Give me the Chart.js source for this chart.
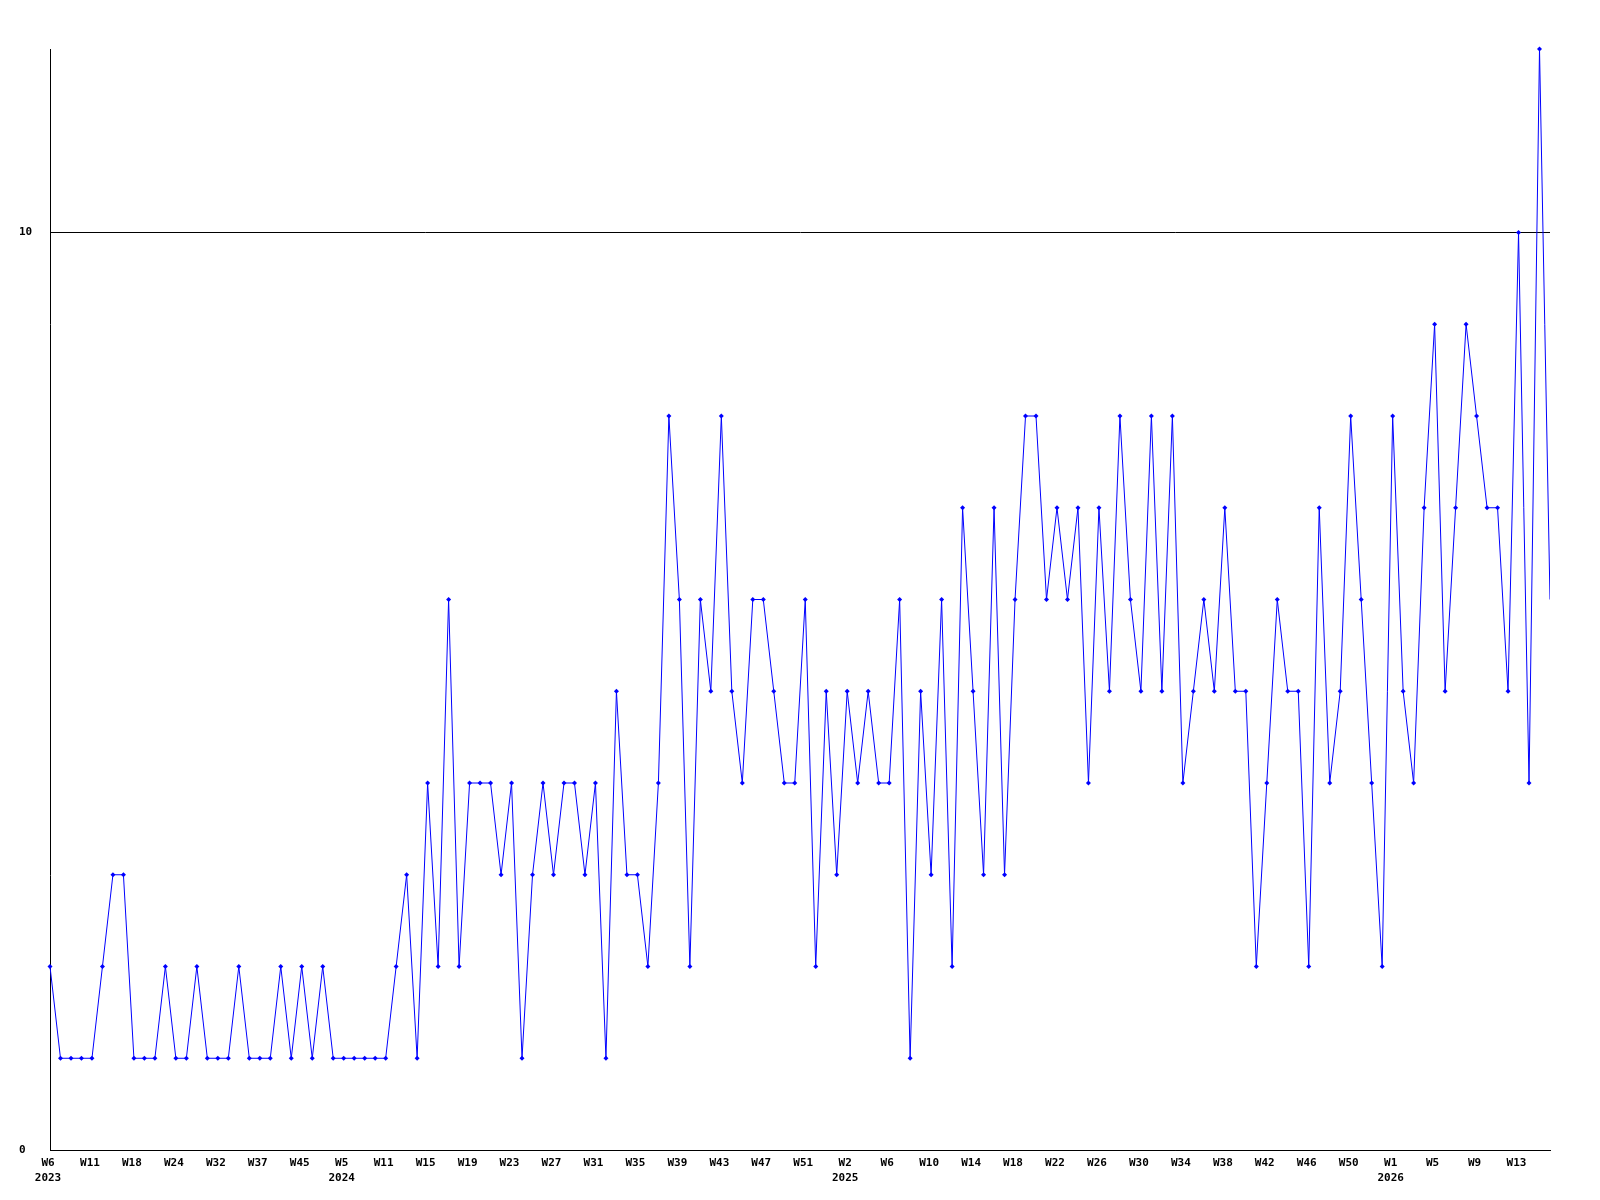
<!DOCTYPE html>
<html>
<head>
<meta charset="utf-8">
<script src="https://cdn.jsdelivr.net/npm/chart.js@4/dist/chart.umd.min.js"></script>
<style>
  body { margin: 0; background: #fff; }
  #wrap { width: 1600px; height: 1200px; }
</style>
</head>
<body>
<div id="wrap"><canvas id="lineChart" width="1600" height="1200"></canvas></div>
<script>
// one label every 4 weeks, the rest of the points have no label
const tickLabels = ["W6","W11","W18","W24","W32","W37","W45","W5","W11","W15","W19","W23",
  "W27","W31","W35","W39","W43","W47","W51","W2","W6","W10","W14","W18",
  "W22","W26","W30","W34","W38","W42","W46","W50","W1","W5","W9","W13"]
const yearAt = { 0: "2023", 7: "2024", 19: "2025", 32: "2026" }
const yTicks = [0, 10]

const values = [
  2,1,1,1,1,2,3,3,1,1,1,2,1,1,2,1,1,1,2,
  1,1,1,2,1,2,1,2,1,1,1,1,1,1,2,3,1,4,
  2,6,2,4,4,4,3,4,1,3,4,3,4,4,3,4,1,5,
  3,3,2,4,8,6,2,6,5,8,5,4,6,6,5,4,4,6,
  2,5,3,5,4,5,4,4,6,1,5,3,6,2,7,5,3,7,
  3,6,8,8,6,7,6,7,4,7,5,8,6,5,8,5,8,4,
  5,6,5,7,5,5,2,4,6,5,5,2,7,4,5,8,6,4,
  2,8,5,4,7,9,5,7,9,8,7,7,5,10,4,12,6
]

const labels = values.map((v, i) => {
  if (i % 4 !== 0) return ""
  const m = i / 4
  return yearAt[m] ? [tickLabels[m], yearAt[m]] : tickLabels[m]
})

const tickFont = { family: "'DejaVu Sans Mono', monospace", size: 11, weight: "bold", lineHeight: 1.4 }

var ctx = document.getElementById("lineChart").getContext("2d")
var lineChart = new Chart(ctx, {
  type: "line",
  data: {
    labels: labels,
    datasets: [{
      data: values,
      borderColor: "#0000ff",
      backgroundColor: "#0000ff",
      borderWidth: 1,
      tension: 0,
      pointStyle: "rectRot",
      // last point sits on the right edge and has no marker
      pointRadius: c => c.dataIndex === values.length - 1 ? 0 : 2.5,
      pointBorderWidth: 0,
      clip: { left: 5, top: 5, right: 0, bottom: 5 }
    }]
  },
  options: {
    responsive: false,
    animation: false,
    devicePixelRatio: 1,
    layout: { autoPadding: false, padding: { left: 19, right: 50, top: 49, bottom: 0 } },
    plugins: { legend: { display: false }, tooltip: { enabled: false } },
    scales: {
      x: {
        offset: false,
        grid: { display: false, drawTicks: false },
        border: { display: true, color: "#000", width: 1 },
        afterFit: s => { s.height = 50 },
        ticks: {
          autoSkip: false,
          maxRotation: 0,
          padding: 5,
          labelOffset: -2,
          color: "#000",
          font: tickFont
        }
      },
      y: {
        min: 0,
        max: 12,
        afterBuildTicks: s => { s.ticks = yTicks.map(v => ({ value: v })) },
        afterFit: s => { s.width = 31 },
        grid: { color: "#000", lineWidth: 1, drawTicks: false },
        border: { display: true, color: "#000", width: 1 },
        ticks: {
          crossAlign: "far",
          padding: 0,
          color: "#000",
          font: tickFont
        }
      }
    }
  }
})
</script>
</body>
</html>
